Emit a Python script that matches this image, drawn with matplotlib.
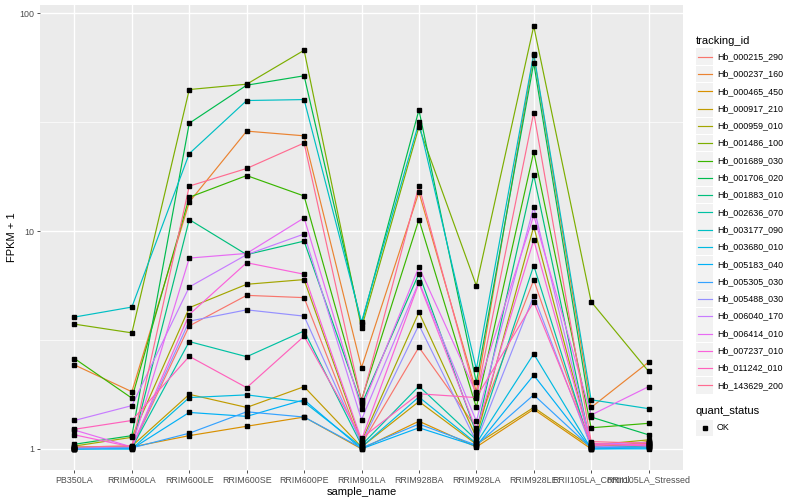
import numpy as np
import matplotlib
matplotlib.use("Agg")
import matplotlib.pyplot as plt
from matplotlib.lines import Line2D
from matplotlib.patches import Rectangle

plt.rcParams['font.family'] = ['Liberation Sans', 'DejaVu Sans']

samples = ["PB350LA", "RRIM600LA", "RRIM600LE", "RRIM600SE", "RRIM600PE",
           "RRIM901LA", "RRIM928BA", "RRIM928LA", "RRIM928LE",
           "RRII105LA_Control", "RRII105LA_Stressed"]

tracking_ids = ["Hb_000215_290", "Hb_000237_160", "Hb_000465_450", "Hb_000917_210",
                "Hb_000959_010", "Hb_001486_100", "Hb_001689_030", "Hb_001706_020",
                "Hb_001883_010", "Hb_002636_070", "Hb_003177_090", "Hb_003680_010",
                "Hb_005183_040", "Hb_005305_030", "Hb_005488_030", "Hb_006040_170",
                "Hb_006414_010", "Hb_007237_010", "Hb_011242_010", "Hb_143629_200"]

# FPKM + 1, one row per tracking id, one column per sample
fpkm = [
    [1.01, 1.01, 3.67, 5.07, 4.95, 1.05, 2.93, 1.25, 5.97, 1.03, 1.05],
    [2.43, 1.83, 13.6, 28.8, 27.4, 2.36, 15.1, 1.83, 64.3, 1.55, 2.50],
    [1.00, 1.02, 1.15, 1.27, 1.40, 1.00, 1.34, 1.02, 1.52, 1.00, 1.08],
    [1.02, 1.03, 1.78, 1.55, 1.93, 1.02, 1.65, 1.05, 1.55, 1.02, 1.06],
    [1.03, 1.13, 4.45, 5.70, 5.99, 1.08, 4.24, 1.13, 10.5, 1.04, 1.10],
    [3.74, 3.41, 44.7, 47.3, 67.7, 3.59, 30.1, 5.62, 87.4, 4.74, 2.27],
    [2.60, 1.71, 14.3, 18.0, 14.5, 1.68, 11.3, 1.55, 23.1, 1.25, 1.31],
    [1.05, 1.15, 31.3, 46.8, 51.7, 3.75, 36.0, 2.02, 59.2, 1.40, 1.16],
    [1.01, 1.02, 11.3, 7.80, 9.00, 1.60, 6.38, 1.18, 18.1, 1.02, 1.03],
    [1.00, 1.01, 3.11, 2.65, 3.48, 1.04, 1.94, 1.10, 6.95, 1.01, 1.02],
    [4.03, 4.48, 22.7, 39.8, 40.2, 3.83, 31.6, 2.32, 65.3, 1.68, 1.53],
    [1.00, 1.00, 1.72, 1.77, 1.64, 1.02, 1.73, 1.06, 2.73, 1.00, 1.01],
    [1.00, 1.00, 1.47, 1.41, 1.68, 1.00, 1.25, 1.03, 2.18, 1.00, 1.00],
    [1.00, 1.01, 1.18, 1.48, 1.40, 1.01, 1.30, 1.04, 1.77, 1.01, 1.02],
    [1.01, 1.02, 3.86, 4.35, 4.07, 1.06, 3.71, 1.08, 5.05, 1.02, 1.04],
    [1.35, 1.58, 5.54, 7.80, 9.70, 1.36, 5.85, 1.34, 12.9, 1.05, 1.07],
    [1.22, 1.02, 7.52, 7.90, 11.5, 1.53, 6.85, 1.80, 11.8, 1.43, 1.93],
    [1.16, 1.02, 4.14, 7.16, 6.34, 1.10, 5.78, 1.22, 9.10, 1.04, 1.05],
    [1.23, 1.35, 2.66, 1.91, 3.29, 1.12, 1.79, 1.72, 4.73, 1.06, 1.03],
    [1.02, 1.03, 16.1, 19.4, 25.4, 1.65, 16.1, 1.73, 35.0, 1.08, 1.06],
]

colors = ["#F8766D", "#EA8331", "#D89000", "#C09B00", "#A3A500", "#7CAE00", "#39B600",
          "#00BB4E", "#00BF7D", "#00C1A3", "#00BFC4", "#00BAE0", "#00B0F6", "#35A2FF",
          "#9590FF", "#C77CFF", "#E76BF3", "#FA62DB", "#FF62BC", "#FF6C91"]

W, H = 800, 500
fig = plt.figure(figsize=(8, 5), dpi=100)
ax = fig.add_axes([40 / W, 30 / H, 643 / W, 465 / H])
ax.set_facecolor("#EBEBEB")

x = np.arange(len(samples))
for vals, col in zip(fpkm, colors):
    ax.plot(x, vals, color=col, lw=0.85, zorder=3)
for vals in fpkm:
    ax.plot(x, vals, ls="none", marker="s", ms=2.4, color="black", zorder=4)

ax.set_yscale("log")
ymax = np.log10(np.max(fpkm))
pad = 0.05 * ymax
ax.set_ylim(10 ** (-pad), 10 ** (ymax + pad))
ax.set_xlim(-0.6, len(samples) - 0.4)

ax.set_yticks([1, 10, 100])
ax.set_yticklabels(["1", "10", "100"])
ax.set_yticks([10 ** 0.5, 10 ** 1.5], minor=True)
ax.yaxis.set_minor_formatter(plt.NullFormatter())
ax.set_xticks(x)
ax.set_xticklabels(samples)

ax.grid(True, which="major", color="white", lw=1.0)
ax.grid(True, which="minor", axis="y", color="white", lw=0.5)
ax.set_axisbelow(True)
for s in ax.spines.values():
    s.set_visible(False)
ax.tick_params(axis="both", which="major", length=2.5, width=0.6, color="#333333",
               labelsize=6.4, labelcolor="#4D4D4D", pad=1.5)
ax.tick_params(axis="y", which="minor", length=0)

ax.set_xlabel("sample_name", fontsize=8, labelpad=1.5)
ax.set_ylabel("FPKM + 1", fontsize=8, labelpad=2)

# legend: tracking_id
def fx(px):
    return px / W

def fy(py):
    return 1 - py / H

fig.text(fx(696), fy(40.5), "tracking_id", fontsize=8, va="center", ha="left")
step = 17.3
for i, (name, col) in enumerate(zip(tracking_ids, colors)):
    yc = 56.7 + i * step
    fig.add_artist(Rectangle((fx(696), fy(yc + 8.3)), 17 / W, 16.6 / H,
                             transform=fig.transFigure, facecolor="#F2F2F2",
                             edgecolor="none"))
    fig.add_artist(Line2D([fx(697.5), fx(711.5)], [fy(yc), fy(yc)],
                          transform=fig.transFigure, color=col, lw=0.85))
    fig.text(fx(717), fy(yc), name, fontsize=6.4, va="center", ha="left")

# legend: quant_status
fig.text(fx(696), fy(411), "quant_status", fontsize=8, va="center", ha="left")
fig.add_artist(Rectangle((fx(696), fy(428 + 8.3)), 17 / W, 16.6 / H,
                         transform=fig.transFigure, facecolor="#F2F2F2", edgecolor="none"))
fig.add_artist(Line2D([fx(704.5)], [fy(428)], transform=fig.transFigure, ls="none",
                      marker="s", ms=2.4, color="black"))
fig.text(fx(717), fy(428), "OK", fontsize=6.4, va="center", ha="left")

fig.savefig("out.png", dpi=100, facecolor="white")
